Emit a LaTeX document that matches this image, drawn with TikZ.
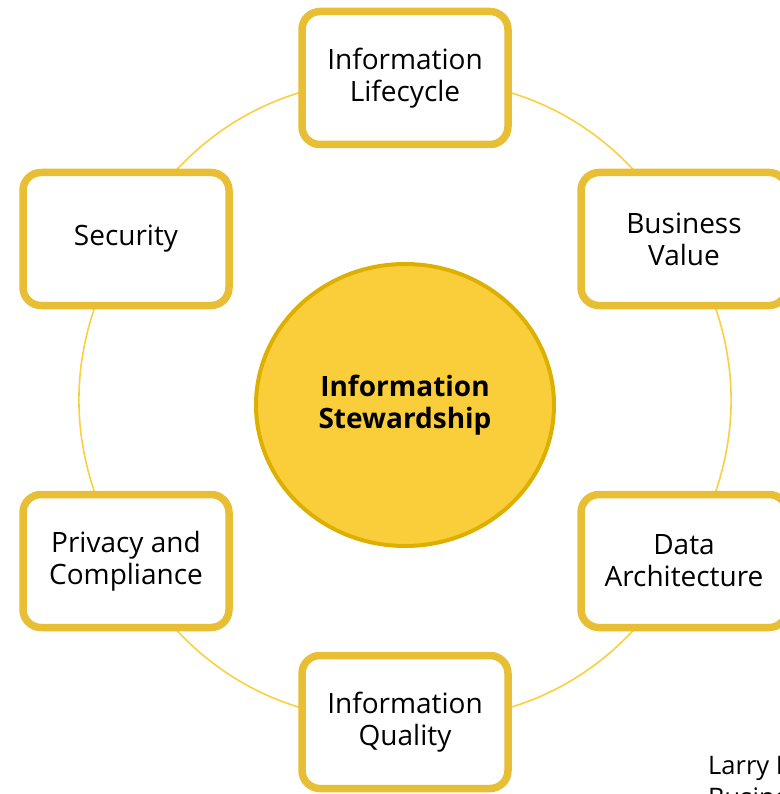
\documentclass[tikz,border=0pt]{standalone}
\usepackage{fontspec}
\setmainfont{Open Sans}
\usetikzlibrary{shapes.geometric,shadows,backgrounds}
\definecolor{boxgold}{RGB}{232,190,53}
\definecolor{ringgold}{RGB}{249,208,64}
\definecolor{hubfill}{RGB}{249,206,58}
\definecolor{hubedge}{RGB}{221,176,0}
\tikzset{
  topic/.style={draw=boxgold, line width=7.5pt, fill=white, rounded corners=18pt,
    minimum width=206pt, minimum height=133pt, align=center,
    font=\fontsize{28}{32}\selectfont,
    drop shadow={opacity=0.22, shadow xshift=2pt, shadow yshift=-3pt}},
  hub/.style={ellipse, draw=hubedge, line width=4pt, fill=hubfill,
    minimum width=298pt, minimum height=282pt, align=center,
    font=\fontsize{28}{32}\selectfont\bfseries},
  ring/.style={draw=ringgold, line width=1.6pt}
}
\begin{document}
\begin{tikzpicture}[x=1pt,y=-1pt,line join=round,line cap=round]
  \useasboundingbox (0,0) rectangle (779,794);
  % centre
  \node[hub] (hub) at (405,405) {Information\\Stewardship};
  % six topics round the ring
  \node[topic] (life) at (405,78) {Information\\Lifecycle};
  \node[topic] (value) at (684,239) {Business\\Value};
  \node[topic] (arch) at (684,561) {Data\\Architecture};
  \node[topic] (quality) at (405,722) {Information\\Quality};
  \node[topic] (privacy) at (126,561) {Privacy and\\Compliance};
  \node[topic] (security) at (126,239) {Security};
  \begin{scope}[on background layer]
    \foreach \a/\b in {life/value,value/arch,arch/quality,quality/privacy,privacy/security,security/life}
      \draw[ring] (\a.center) to[bend left=30] (\b.center);
  \end{scope}
  % source, cut off by the frame
  \node[anchor=north west, align=left, inner sep=0pt, font=\fontsize{25.5}{32}\selectfont] (credit) at (708,756) {Larry I\\Busine};
\end{tikzpicture}
\end{document}
